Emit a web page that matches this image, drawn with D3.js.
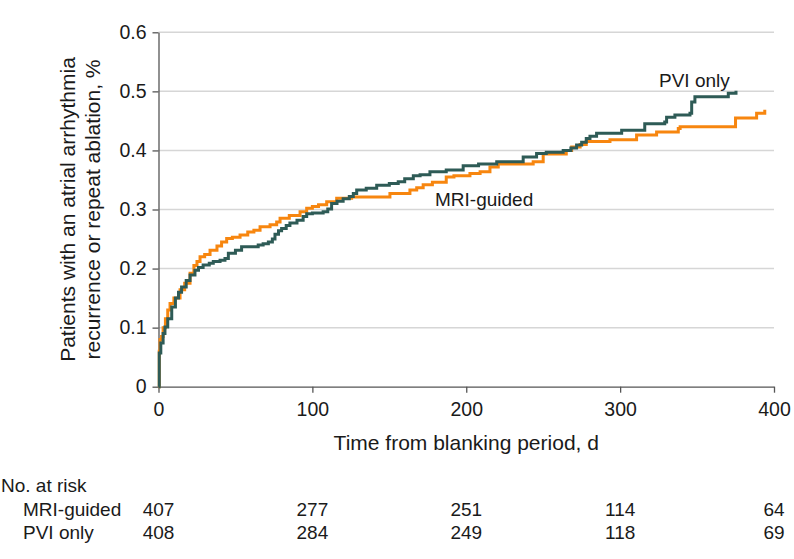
<!DOCTYPE html>
<html>
<head>
<meta charset="utf-8">
<script src="https://cdn.jsdelivr.net/npm/d3@7"></script>
<style>
  body { margin: 0; background: #fff; }
  text { font-family: "Liberation Sans", Arial, sans-serif; fill: #1a1a1a; }
</style>
</head>
<body>
<script>
const width = 794;
const height = 559;

// cumulative incidence, [day, value] at each step
const pviOnly = [
  [0, 0], [0.5, 0.057], [1.5, 0.074], [3, 0.09], [4.2, 0.101], [6, 0.115], [8.6, 0.135],
  [11, 0.15], [13, 0.16], [15, 0.169], [18, 0.18], [20.5, 0.189], [23.7, 0.197], [26, 0.202],
  [29, 0.206], [33, 0.209], [35.6, 0.212], [40, 0.214], [43.2, 0.217], [45.4, 0.226], [50, 0.231],
  [54, 0.237], [64.8, 0.24], [68, 0.242], [71.4, 0.245], [74, 0.25], [75.7, 0.258], [78, 0.264],
  [80, 0.268], [83, 0.273], [85.4, 0.277], [90, 0.282], [94, 0.288], [96.3, 0.293], [100, 0.294],
  [107, 0.296], [110, 0.301], [112.5, 0.31], [116, 0.314], [120, 0.318], [124, 0.322], [126.6, 0.327],
  [128.8, 0.333], [135, 0.336], [141.8, 0.341], [150, 0.344], [155.8, 0.347], [160, 0.352],
  [165.6, 0.357], [170, 0.359], [176.4, 0.364], [187, 0.367], [198, 0.374], [208, 0.377],
  [219.8, 0.381], [237, 0.389], [245.7, 0.395], [252, 0.397], [263, 0.4], [268, 0.404],
  [271.7, 0.409], [275, 0.414], [278, 0.42], [280.4, 0.424], [284.7, 0.429], [301, 0.434],
  [316, 0.445], [329, 0.448], [330.2, 0.456], [335.6, 0.46], [345.4, 0.463], [346.5, 0.482],
  [348.6, 0.491], [370.3, 0.497], [375.3, 0.501]
];

const mriGuided = [
  [0, 0], [0.5, 0.06], [1, 0.08], [2, 0.085], [3, 0.1], [4.5, 0.115], [6, 0.13], [7.5, 0.141],
  [10, 0.15], [14, 0.164], [17, 0.175], [20.5, 0.192], [23, 0.205], [25, 0.212], [27, 0.22],
  [30, 0.224], [33.5, 0.231], [38, 0.238], [41, 0.245], [44.3, 0.251], [48, 0.253], [53, 0.257],
  [58, 0.262], [62, 0.265], [66, 0.271], [72.5, 0.274], [76.8, 0.279], [79, 0.285], [85, 0.29],
  [92, 0.296], [96.3, 0.302], [100, 0.305], [104, 0.308], [109.3, 0.313], [115.8, 0.319],
  [125.5, 0.321], [150.4, 0.327], [163.4, 0.333], [167.8, 0.337], [172, 0.342], [178, 0.346],
  [187, 0.355], [192, 0.357], [202.4, 0.361], [209, 0.364], [215.4, 0.372], [220.8, 0.377],
  [243.5, 0.381], [250, 0.394], [265, 0.4], [268.5, 0.406], [274, 0.41], [278, 0.415],
  [293.4, 0.418], [310.7, 0.426], [323.7, 0.431], [337.8, 0.437], [339, 0.44], [375, 0.455],
  [388.7, 0.463], [394, 0.469]
];

const xTicks = [0, 100, 200, 300, 400];
const yTicks = [0, 0.1, 0.2, 0.3, 0.4, 0.5, 0.6];
const riskGroups = ["MRI-guided", "PVI only"];
const riskMri = [407, 277, 251, 114, 64];
const riskPvi = [408, 284, 249, 118, 69];

const colors = { mri: "#f7860f", pvi: "#2e5b56" };

const svg = d3.select("body")
  .append("svg")
  .attr("width", width)
  .attr("height", height);

const x = d3.scaleLinear().domain([0, 400]).range([158.5, 774]);
const y = d3.scaleLinear().domain([0, 0.6]).range([386.7, 32.3]);

// grid
svg.append("g")
  .selectAll("line")
  .data(yTicks.slice(1))
  .enter()
  .append("line")
  .attr("x1", x(0))
  .attr("x2", x(400))
  .attr("y1", d => y(d))
  .attr("y2", d => y(d))
  .attr("stroke", "#d6d6d6")
  .attr("stroke-width", 1.5);

// axes
const xAxis = svg.append("g")
  .attr("transform", `translate(0,${y(0)})`)
  .call(d3.axisBottom(x).tickValues(xTicks).tickSize(6).tickSizeOuter(0).tickPadding(9));
const yAxis = svg.append("g")
  .attr("transform", `translate(${x(0)},0)`)
  .call(d3.axisLeft(y).tickValues(yTicks).tickFormat(d => d === 0 ? "0" : d3.format(".1f")(d))
    .tickSize(6).tickSizeOuter(0).tickPadding(6));

[xAxis, yAxis].forEach(g => {
  g.select(".domain").attr("stroke", "#555").attr("stroke-width", 1.3);
  g.selectAll(".tick line").attr("stroke", "#555").attr("stroke-width", 1.3);
  g.selectAll(".tick text").attr("font-size", 19.5).attr("fill", "#1a1a1a")
    .attr("font-family", '"Liberation Sans", Arial, sans-serif');
});

// curves
const line = d3.line()
  .x(d => x(d[0]))
  .y(d => y(d[1]))
  .curve(d3.curveStepAfter);

svg.append("path")
  .datum(mriGuided)
  .attr("d", line)
  .attr("fill", "none")
  .attr("stroke", colors.mri)
  .attr("stroke-width", 3);

svg.append("path")
  .datum(pviOnly)
  .attr("d", line)
  .attr("fill", "none")
  .attr("stroke", colors.pvi)
  .attr("stroke-width", 3);

// series labels
svg.append("text")
  .attr("x", 659)
  .attr("y", 87)
  .attr("font-size", 19)
  .text("PVI only");
svg.append("text")
  .attr("x", 435)
  .attr("y", 206)
  .attr("font-size", 19)
  .text("MRI-guided");

// axis titles
svg.append("text")
  .attr("x", (x(0) + x(400)) / 2)
  .attr("y", 450)
  .attr("text-anchor", "middle")
  .attr("font-size", 21)
  .text("Time from blanking period, d");

const yMid = (y(0) + y(0.6)) / 2;
svg.append("text")
  .attr("transform", `translate(75,${yMid}) rotate(-90)`)
  .attr("text-anchor", "middle")
  .attr("font-size", 21)
  .text("Patients with an atrial arrhythmia");
svg.append("text")
  .attr("transform", `translate(100,${yMid}) rotate(-90)`)
  .attr("text-anchor", "middle")
  .attr("font-size", 21)
  .text("recurrence or repeat ablation, %");

// number at risk table
svg.append("text")
  .attr("x", 1)
  .attr("y", 492)
  .attr("font-size", 19)
  .text("No. at risk");

const rows = [riskMri, riskPvi];
rows.forEach((vals, i) => {
  const rowY = 516 + i * 23;
  svg.append("text")
    .attr("x", 23)
    .attr("y", rowY)
    .attr("font-size", 19)
    .text(riskGroups[i]);
  svg.append("g")
    .selectAll("text")
    .data(vals)
    .enter()
    .append("text")
    .attr("x", (d, j) => x(xTicks[j]))
    .attr("y", rowY)
    .attr("text-anchor", "middle")
    .attr("font-size", 19)
    .text(d => d);
});
</script>
</body>
</html>
